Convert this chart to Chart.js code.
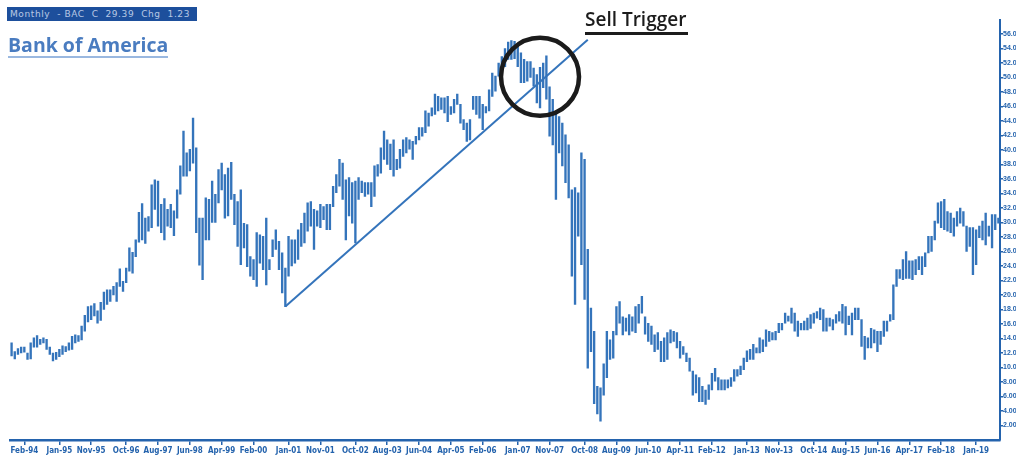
<!DOCTYPE html>
<html>
<head>
<meta charset="utf-8">
<script src="https://cdn.jsdelivr.net/npm/chart.js@4.4.1/dist/chart.umd.min.js"></script>
<style>
    html, body { margin: 0; padding: 0; background: #fff; }
    #wrap { position: relative; width: 1016px; height: 456px; overflow: hidden; }
    #chart { position: absolute; left: 0; top: 0; }
    .quote {
        position: absolute; left: 7px; top: 7px; width: 190px; height: 14px;
        background: #1d4f9c; color: rgba(235, 242, 255, 0.75);
        font: 9px "DejaVu Sans", sans-serif; line-height: 14px;
        letter-spacing: 0.6px; white-space: pre; padding-left: 3px; box-sizing: border-box;
    }
    .title {
        position: absolute; left: 8px; top: 33px;
        font: 700 19.5px "Open Sans", sans-serif; color: #4a7cc0;
        border-bottom: 2px solid #9ab8e0; line-height: 23px; padding-bottom: 0;
    }
    .trigger {
        position: absolute; left: 585px; top: 6px; width: 103px;
        font: 600 19px "Open Sans", sans-serif; color: #1c1c1c;
        border-bottom: 3px solid #1c1c1c; line-height: 26px; white-space: nowrap;
    }
</style>
</head>
<body>
<div id="wrap">
    <canvas id="chart" width="1016" height="456"></canvas>
    <div class="quote">Monthly  - BAC  C  29.39  Chg  1.23</div>
    <div class="title">Bank of America</div>
    <div class="trigger">Sell Trigger</div>
</div>
<script>
// Monthly bars, Oct-93 .. Aug-19 (high / low)
const firstMonth = { year: 1993, month: 9 };   // Oct 1993

const highs = [
    13.4, 12.2, 12.6,                                                    // 1993
    12.8, 12.8, 12.0, 13.4, 14.1, 14.4, 13.9, 14.1, 13.9, 12.8, 12.0, 12.1, // 1994
    12.5, 13.0, 12.9, 13.4, 14.3, 14.5, 14.4, 15.7, 17.2, 18.4, 18.5, 18.8, // 1995
    17.8, 19.0, 20.4, 20.7, 20.7, 21.2, 21.7, 23.6, 21.9, 23.7, 26.5, 25.9, // 1996
    27.6, 31.4, 32.6, 30.6, 30.8, 35.2, 35.9, 35.7, 32.5, 33.3, 31.8, 32.5, // 1997
    31.6, 34.5, 37.8, 42.6, 39.6, 40.1, 44.4, 40.3, 30.6, 30.6, 33.4, 33.2, // 1998
    35.7, 33.9, 37.3, 38.2, 36.6, 37.5, 38.3, 33.9, 32.9, 34.5, 29.9, 29.7, // 1999
    25.3, 24.9, 28.6, 28.3, 28.1, 30.6, 24.9, 27.6, 29.0, 27.4, 25.8, 23.7, // 2000
    28.1, 27.6, 27.6, 29.0, 29.9, 31.3, 32.7, 32.9, 31.8, 31.6, 32.5, 32.2, // 2001
    32.5, 32.5, 35.0, 36.6, 38.7, 38.2, 35.9, 36.2, 35.5, 35.7, 36.2, 35.7, // 2002
    35.5, 35.5, 35.5, 37.8, 38.0, 40.3, 42.6, 41.4, 40.8, 41.4, 38.7, 40.1, // 2003
    41.4, 41.7, 41.4, 41.2, 41.9, 43.1, 43.1, 45.4, 45.1, 45.8, 47.7, 47.4, // 2004
    47.2, 47.2, 47.4, 46.0, 47.0, 47.7, 46.3, 44.2, 43.7, 44.2, 47.4, 47.4, // 2005
    47.4, 46.3, 46.0, 48.3, 50.6, 50.2, 52.0, 52.9, 54.0, 54.9, 55.1, 55.0, // 2006
    54.3, 53.4, 52.5, 52.2, 52.2, 51.3, 50.4, 51.4, 52.0, 53.0, 48.7, 47.0, // 2007
    45.1, 44.6, 43.7, 42.1, 40.7, 34.5, 34.8, 34.1, 39.6, 38.7, 26.3, 18.2, // 2008
    15.0, 7.4, 7.2, 10.5, 15.0, 13.8, 15.0, 18.4, 19.1, 17.0, 16.8, 17.3,   // 2009
    17.0, 18.4, 18.7, 19.8, 17.0, 16.1, 15.7, 14.5, 14.8, 13.6, 14.1, 14.8, // 2010
    15.2, 15.0, 14.8, 13.6, 12.9, 12.0, 11.3, 9.5, 9.0, 8.6, 7.4, 6.9,      // 2011
    7.6, 9.2, 9.9, 8.6, 8.3, 8.3, 8.3, 8.6, 9.7, 9.7, 10.2, 11.3,           // 2012
    12.3, 12.5, 13.2, 12.7, 14.1, 13.8, 15.2, 15.0, 14.8, 15.0, 16.1, 16.1, // 2013
    17.5, 17.1, 18.2, 17.5, 16.4, 16.1, 16.4, 16.8, 17.3, 17.5, 17.7, 18.2, // 2014
    18.0, 16.8, 16.8, 16.6, 17.3, 17.7, 18.7, 18.4, 17.1, 17.5, 18.2, 18.2, // 2015
    16.6, 14.3, 14.1, 15.4, 15.2, 15.0, 15.0, 16.4, 16.4, 17.3, 21.4, 23.5, // 2016
    23.5, 24.9, 26.0, 24.7, 24.7, 24.9, 25.3, 25.3, 25.8, 28.1, 28.1, 30.2, // 2017
    32.7, 32.9, 33.2, 31.5, 31.3, 30.6, 31.5, 32.0, 31.5, 29.5, 29.3, 29.3, // 2018
    29.0, 29.5, 30.2, 31.3, 29.5, 31.1, 31.1, 30.6                          // 2019
];

const lows = [
    11.6, 11.2, 11.8,                                                    // 1993
    12.0, 12.1, 11.1, 11.2, 12.8, 12.8, 13.2, 13.4, 12.5, 11.8, 10.9, 11.1, // 1994
    11.5, 11.8, 12.2, 12.4, 12.5, 13.4, 13.6, 13.8, 15.0, 16.3, 16.6, 17.1, // 1995
    16.1, 16.5, 18.0, 18.7, 19.1, 20.0, 19.1, 21.2, 20.5, 21.7, 23.3, 23.0, // 1996
    25.3, 27.3, 27.6, 27.1, 28.8, 29.3, 31.8, 29.5, 28.6, 27.6, 29.5, 29.3, // 1997
    28.2, 30.6, 33.9, 36.4, 36.4, 37.1, 38.2, 28.6, 24.1, 22.1, 27.6, 27.6, // 1998
    30.0, 30.0, 32.7, 34.5, 30.6, 30.9, 33.2, 29.7, 26.7, 24.2, 26.5, 23.9, // 1999
    22.6, 22.1, 21.2, 24.4, 23.5, 21.4, 23.5, 25.3, 26.3, 23.5, 20.3, 18.4, // 2000
    22.6, 24.0, 24.4, 24.9, 26.7, 27.2, 28.8, 29.5, 26.3, 29.5, 29.3, 30.4, // 2001
    29.0, 29.0, 32.2, 34.1, 35.0, 33.2, 27.6, 30.9, 29.9, 27.2, 33.2, 34.1, // 2002
    33.6, 33.9, 32.2, 33.6, 36.4, 36.8, 38.7, 38.0, 37.3, 36.4, 37.3, 37.5, // 2003
    39.1, 39.6, 40.1, 38.7, 40.8, 41.4, 41.9, 42.4, 43.3, 44.7, 44.9, 45.4, // 2004
    45.6, 45.1, 43.9, 44.9, 45.1, 46.3, 43.7, 42.8, 41.2, 41.4, 45.6, 44.9, // 2005
    44.4, 42.8, 45.1, 45.4, 47.4, 48.1, 50.2, 48.8, 51.5, 52.5, 52.5, 52.6, // 2006
    51.5, 49.3, 49.3, 49.5, 50.0, 48.8, 46.5, 45.8, 48.6, 47.0, 41.9, 40.7, // 2007
    33.2, 39.6, 37.8, 35.5, 33.4, 22.6, 18.7, 28.1, 24.2, 19.4, 9.9, 12.2,  // 2008
    5.0, 3.6, 2.6, 6.2, 8.6, 11.1, 11.3, 14.5, 16.1, 14.5, 15.0, 14.5,      // 2009
    15.0, 14.8, 16.1, 17.5, 14.6, 13.6, 13.2, 12.2, 12.5, 10.8, 10.8, 11.1, // 2010
    13.4, 13.6, 12.7, 11.3, 11.8, 10.8, 9.5, 6.2, 6.5, 5.3, 5.3, 4.9,       // 2011
    5.6, 6.9, 8.1, 6.9, 6.9, 6.9, 7.2, 7.4, 8.1, 8.8, 9.0, 9.7,             // 2012
    10.8, 11.1, 11.1, 12.0, 12.0, 12.2, 12.9, 13.6, 13.8, 13.8, 14.8, 15.2, // 2013
    16.1, 16.4, 16.1, 15.0, 14.3, 15.2, 15.2, 15.2, 15.4, 16.1, 16.8, 16.6, // 2014
    15.0, 15.0, 15.7, 15.2, 16.1, 16.4, 16.1, 14.5, 15.9, 14.5, 16.6, 16.6, // 2015
    12.9, 11.1, 12.7, 12.7, 13.4, 12.2, 13.2, 14.3, 15.0, 16.4, 16.6, 21.2, // 2016
    22.3, 22.1, 22.3, 22.3, 22.1, 22.8, 23.5, 22.8, 23.9, 25.8, 26.0, 27.6, // 2017
    29.9, 29.3, 29.0, 28.8, 28.6, 28.1, 29.5, 29.9, 29.5, 26.0, 26.7, 22.8, // 2018
    24.2, 27.9, 27.6, 26.9, 28.1, 26.5, 29.0, 29.9                          // 2019
];

const xTickLabels = [
    "Feb-94", "Jan-95", "Nov-95", "Oct-96", "Aug-97", "Jun-98", "Apr-99", "Feb-00",
    "Jan-01", "Nov-01", "Oct-02", "Aug-03", "Jun-04", "Apr-05", "Feb-06", "Jan-07",
    "Nov-07", "Oct-08", "Aug-09", "Jun-10", "Apr-11", "Feb-12", "Jan-13", "Nov-13",
    "Oct-14", "Aug-15", "Jun-16", "Apr-17", "Feb-18", "Jan-19"
];
const yTicks = [2, 4, 6, 8, 10, 12, 14, 16, 18, 20, 22, 24, 26, 28, 30, 32, 34, 36, 38,
                40, 42, 44, 46, 48, 50, 52, 54, 56];

// Trend line from the Dec-00 low, and the "sell trigger" ring
const trendStart = { month: "Dec-00", value: 18.4 };
const trendEnd   = { month: "Nov-08", value: 55.2 };
const ringAt     = { month: "Aug-07", value: 50.1 };

const MONTH_NAMES = ["Jan","Feb","Mar","Apr","May","Jun","Jul","Aug","Sep","Oct","Nov","Dec"];
const months = highs.map((_, i) => {
    const m = firstMonth.month + i;
    const y = firstMonth.year + Math.floor(m / 12);
    return MONTH_NAMES[m % 12] + "-" + String(y).slice(2);
});

const BLUE = "#3474bb";
const AXIS = "#2463ad";
const X_FONT = { family: "'Liberation Sans Narrow', 'Arial Narrow', 'DejaVu Sans Condensed', sans-serif", size: 8, weight: "bold" };
const Y_FONT = { family: "'Liberation Sans', Arial, sans-serif", size: 7, weight: "bold" };

const ringPlugin = {
    id: "sellRing",
    afterDatasetsDraw(chart) {
        const { ctx, scales: { x, y } } = chart;
        const cx = x.getPixelForValue(months.indexOf(ringAt.month));
        const cy = y.getPixelForValue(ringAt.value);
        ctx.save();
        ctx.beginPath();
        ctx.arc(cx, cy, 39, 0, Math.PI * 2);
        ctx.lineWidth = 4.5;
        ctx.strokeStyle = "#1b1b1b";
        ctx.stroke();
        ctx.restore();
    }
};

new Chart(document.getElementById("chart"), {
    type: "bar",
    data: {
        labels: months,
        datasets: [
            {
                type: "bar",
                data: highs.map((h, i) => [lows[i], h]),
                backgroundColor: BLUE,
                barThickness: 1.7,
                order: 2,
            },
            {
                type: "line",
                data: [
                    { x: trendStart.month, y: trendStart.value },
                    { x: trendEnd.month,   y: trendEnd.value },
                ],
                borderColor: BLUE,
                borderWidth: 2,
                pointRadius: 0,
                order: 1,
            }
        ]
    },
    options: {
        responsive: false,
        animation: false,
        devicePixelRatio: 1,
        layout: { padding: { left: 10, top: 19.5, right: 0, bottom: 0 } },
        plugins: { legend: { display: false }, tooltip: { enabled: false } },
        scales: {
            x: {
                offset: true,
                grid: { drawOnChartArea: false, offset: false, tickLength: 5, color: AXIS, lineWidth: 1.5 },
                border: { color: AXIS, width: 2.5 },
                ticks: { autoSkip: false, maxRotation: 0, color: AXIS, font: X_FONT, padding: 1 },
                afterBuildTicks: s => { s.ticks = s.ticks.filter(t => xTickLabels.includes(months[t.value])); },
                afterFit: s => { s.height = 16; }
            },
            y: {
                position: "right",
                min: 0, max: 58,
                grid: { drawOnChartArea: false, tickLength: 3, color: AXIS, lineWidth: 1.5 },
                border: { color: AXIS, width: 2 },
                ticks: {
                    color: AXIS, font: Y_FONT, padding: 0,
                    callback: v => v >= 10 ? v.toFixed(1) : v.toFixed(2)
                },
                afterBuildTicks: s => { s.ticks = yTicks.map(v => ({ value: v })); },
                afterFit: s => { s.width = 16; }
            }
        }
    },
    plugins: [ringPlugin]
});
</script>
</body>
</html>
